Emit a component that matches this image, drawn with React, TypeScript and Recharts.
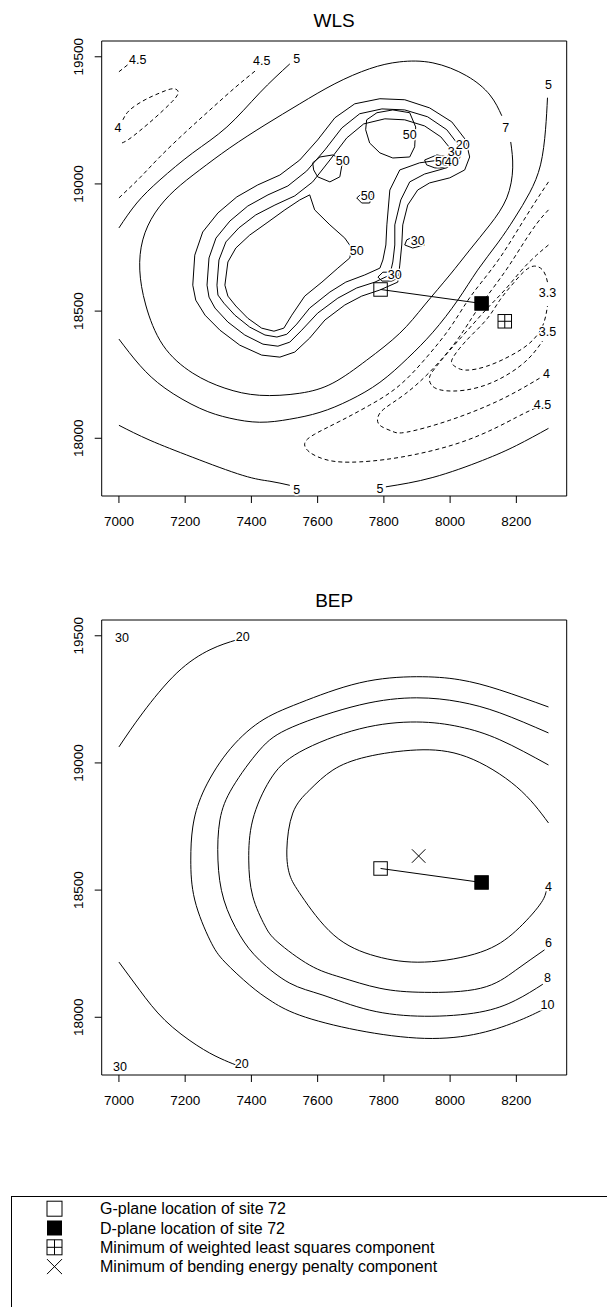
import React from 'react';
import { ComposedChart, Line, Scatter, XAxis, YAxis, ReferenceArea } from 'recharts';

const FONT = '"Liberation Sans", Arial, Helvetica, sans-serif';

// axes (same for both panels)
const xDomain = [6948, 8352];
const yDomain = [17773, 19562];
const xTicks = [7000, 7200, 7400, 7600, 7800, 8000, 8200];
const yTicks = [18000, 18500, 19000, 19500];

// site 72 and the two minima
const gPlane = [{ x: 7790, y: 18585 }];
const dPlane = [{ x: 8095, y: 18530 }];
const wlsMin = [{ x: 8165, y: 18460 }];
const bepMin = [{ x: 7905, y: 18634 }];

// ---- WLS contours, [x, y] ----
const wls45Corner = [[7000, 19441], [7027, 19469]];
const wls4Loop = [[7012, 19252], [7033, 19291], [7079, 19331], [7124, 19358], [7160, 19374], [7178, 19366], [7175, 19346], [7154, 19315], [7109, 19260], [7063, 19209], [7027, 19173], [7003, 19158]];
const wls45Ridge = [[7000, 18945], [7063, 19024], [7124, 19107], [7199, 19201], [7275, 19291], [7350, 19378], [7416, 19449]];
const wls5Top = [[7000, 18827], [7054, 18925], [7124, 19016], [7223, 19122], [7326, 19224], [7425, 19358], [7516, 19472]];
const wls5Sweep = [[7000, 18390], [7063, 18287], [7139, 18197], [7244, 18118], [7335, 18079], [7425, 18063], [7516, 18075], [7607, 18102], [7697, 18150], [7788, 18220], [7872, 18315], [7948, 18417], [8023, 18543], [8083, 18661], [8144, 18768], [8195, 18866], [8240, 18965], [8273, 19075], [8288, 19213], [8294, 19339]];
const wls5BottomLeft = [[7000, 18051], [7094, 17992], [7223, 17925], [7374, 17854], [7456, 17831], [7516, 17815]];
const wls5BottomRight = [[7806, 17809], [7948, 17846], [8098, 17913], [8201, 17972], [8297, 18039]];
const wls7 = [[8183, 19165], [8189, 19063], [8171, 18945], [8120, 18839], [8059, 18740], [7999, 18642], [7923, 18524], [7848, 18413], [7748, 18307], [7646, 18217], [7546, 18177], [7425, 18169], [7320, 18197], [7223, 18256], [7133, 18366], [7081, 18524], [7063, 18661], [7072, 18780], [7109, 18886], [7169, 18976], [7244, 19055], [7335, 19142], [7441, 19232], [7546, 19315], [7652, 19394], [7757, 19453], [7848, 19480], [7948, 19476], [8050, 19425], [8120, 19350], [8156, 19268]];
const wls45Valley = [[8297, 19008], [8255, 18925], [8204, 18819], [8150, 18709], [8095, 18614], [8050, 18535], [7999, 18433], [7932, 18323], [7848, 18209], [7757, 18130], [7667, 18067], [7591, 18016], [7561, 17980], [7576, 17945], [7622, 17917], [7697, 17906], [7848, 17925], [8050, 17992], [8201, 18083], [8264, 18122]];
const wls4Valley = [[8297, 18898], [8261, 18843], [8216, 18756], [8165, 18654], [8107, 18551], [8065, 18472], [8014, 18374], [7938, 18260], [7863, 18173], [7803, 18118], [7782, 18083], [7788, 18051], [7824, 18028], [7869, 18024], [7999, 18071], [8150, 18150], [8270, 18236]];
const wls35 = [[8297, 18760], [8261, 18720], [8216, 18661], [8165, 18583], [8113, 18512], [8053, 18425], [7999, 18346], [7957, 18280], [7938, 18240], [7944, 18209], [7975, 18189], [8044, 18189], [8135, 18224], [8225, 18299], [8279, 18382]];
const wls33 = [[8294, 18614], [8282, 18657], [8255, 18677], [8222, 18654], [8186, 18602], [8150, 18543], [8113, 18472], [8065, 18406], [8029, 18354], [8005, 18307], [8014, 18283], [8047, 18268], [8110, 18283], [8180, 18323], [8240, 18374], [8279, 18441], [8294, 18520]];
// inner ridge
const wls20 = [[7223, 18602], [7229, 18720], [7253, 18811], [7299, 18886], [7356, 18949], [7419, 18996], [7486, 19035], [7546, 19094], [7600, 19173], [7652, 19260], [7712, 19315], [7788, 19335], [7863, 19331], [7938, 19299], [8005, 19244], [8047, 19173], [8059, 19106], [8044, 19055], [7999, 19024], [7938, 19004], [7902, 18976], [7872, 18917], [7857, 18839], [7854, 18760], [7848, 18681], [7842, 18614], [7788, 18583], [7733, 18559], [7682, 18524], [7622, 18465], [7576, 18394], [7531, 18339], [7486, 18319], [7431, 18327], [7365, 18366], [7305, 18425], [7260, 18484], [7232, 18543]];
const wls30 = [[7266, 18602], [7272, 18709], [7293, 18787], [7335, 18854], [7389, 18913], [7450, 18957], [7510, 18992], [7567, 19051], [7622, 19134], [7673, 19220], [7727, 19276], [7794, 19295], [7863, 19291], [7932, 19264], [7990, 19213], [8023, 19157], [8032, 19110], [8017, 19079], [7978, 19059], [7923, 19039], [7878, 19008], [7851, 18937], [7833, 18839], [7833, 18760], [7827, 18693], [7818, 18642], [7773, 18614], [7718, 18591], [7661, 18551], [7600, 18492], [7552, 18425], [7516, 18378], [7480, 18362], [7435, 18370], [7380, 18406], [7329, 18457], [7290, 18512], [7272, 18555]];
const wls40 = [[7296, 18602], [7302, 18701], [7323, 18772], [7362, 18827], [7413, 18878], [7471, 18917], [7531, 18953], [7585, 19008], [7637, 19094], [7688, 19181], [7739, 19236], [7803, 19256], [7863, 19252], [7923, 19228], [7972, 19185], [7999, 19142], [7999, 19114], [7969, 19094], [7908, 19083], [7848, 19055], [7818, 18976], [7809, 18839], [7806, 18760], [7797, 18701], [7788, 18669], [7742, 18642], [7685, 18614], [7637, 18575], [7576, 18512], [7537, 18449], [7507, 18409], [7477, 18398], [7441, 18406], [7395, 18437], [7350, 18484], [7317, 18531], [7299, 18563]];
const wls50Main = [[7320, 18602], [7329, 18693], [7353, 18748], [7395, 18799], [7450, 18850], [7501, 18898], [7546, 18937], [7576, 18957], [7591, 18898], [7637, 18839], [7682, 18787], [7703, 18748], [7697, 18709], [7661, 18669], [7613, 18614], [7561, 18559], [7522, 18484], [7498, 18433], [7468, 18421], [7431, 18433], [7389, 18472], [7353, 18520], [7329, 18559]];
const wls50Top = [[7745, 19213], [7757, 19161], [7788, 19122], [7827, 19102], [7878, 19106], [7893, 19146], [7896, 19224], [7878, 19280], [7827, 19291], [7779, 19280], [7748, 19252]];
const wls50Left = [[7585, 19083], [7607, 19106], [7646, 19114], [7676, 19094], [7667, 19028], [7637, 19008], [7600, 19028], [7588, 19055]];
const wls50Dot = [[7718, 18945], [7742, 18972], [7766, 18957], [7757, 18925], [7733, 18925]];
const wls50Right = [[7923, 19094], [7960, 19114], [7993, 19106], [8005, 19083], [7990, 19063], [7954, 19063], [7929, 19075]];
const wls30a = [[7863, 18760], [7869, 18780], [7887, 18791], [7917, 18787], [7923, 18760], [7887, 18748]];
const wls30b = [[7782, 18634], [7797, 18653], [7827, 18653], [7848, 18634], [7824, 18618], [7794, 18618]];

const wlsLabels = [
  { x: 7057, y: 19488, t: '4.5' }, { x: 6997, y: 19221, t: '4' }, { x: 7431, y: 19484, t: '4.5' },
  { x: 7537, y: 19492, t: '5' }, { x: 8168, y: 19220, t: '7' }, { x: 8297, y: 19390, t: '5' },
  { x: 7718, y: 18740, t: '50' }, { x: 7878, y: 19193, t: '50' }, { x: 7676, y: 19094, t: '50' },
  { x: 7751, y: 18953, t: '50' }, { x: 7975, y: 19087, t: '50' }, { x: 8005, y: 19087, t: '40' },
  { x: 8014, y: 19126, t: '30' }, { x: 8038, y: 19154, t: '20' }, { x: 7902, y: 18776, t: '30' },
  { x: 7833, y: 18642, t: '30' }, { x: 8294, y: 18575, t: '3.3' }, { x: 8294, y: 18421, t: '3.5' },
  { x: 8291, y: 18256, t: '4' }, { x: 8279, y: 18134, t: '4.5' }, { x: 7537, y: 17799, t: '5' },
  { x: 7788, y: 17803, t: '5' },
];

// ---- BEP contours ----
const bep20Top = [[7000, 19063], [7072, 19197], [7175, 19354], [7275, 19445], [7356, 19484]];
const bep20Bottom = [[7000, 18217], [7063, 18106], [7139, 17988], [7235, 17890], [7305, 17839], [7356, 17811]];
const bep10 = [[8297, 19220], [8150, 19287], [8029, 19327], [7899, 19339], [7727, 19315], [7546, 19236], [7425, 19161], [7326, 19039], [7253, 18882], [7223, 18748], [7217, 18618], [7229, 18461], [7275, 18303], [7320, 18217], [7395, 18126], [7456, 18067], [7546, 18008], [7721, 17949], [7923, 17917], [8089, 17937], [8210, 17988], [8280, 18030]];
const bep8 = [[8297, 19118], [8150, 19197], [8029, 19240], [7899, 19256], [7727, 19228], [7525, 19142], [7425, 19051], [7344, 18906], [7305, 18776], [7299, 18618], [7317, 18461], [7365, 18323], [7425, 18224], [7516, 18134], [7616, 18087], [7757, 18028], [7923, 18004], [8089, 18020], [8198, 18067], [8280, 18130]];
const bep6 = [[8297, 18992], [8150, 19091], [8029, 19142], [7899, 19161], [7727, 19134], [7546, 19043], [7456, 18933], [7404, 18776], [7392, 18618], [7404, 18476], [7440, 18362], [7480, 18295], [7576, 18205], [7670, 18157], [7788, 18114], [7923, 18098], [8092, 18114], [8198, 18185], [8285, 18265]];
const bep4 = [[8297, 18764], [8201, 18906], [8050, 19024], [7899, 19051], [7748, 19024], [7646, 18972], [7576, 18894], [7525, 18803], [7507, 18658], [7516, 18559], [7552, 18476], [7649, 18323], [7776, 18240], [7923, 18217], [8092, 18256], [8198, 18339], [8270, 18441], [8290, 18495]];

const bepLabels = [
  { x: 7009, y: 19492, t: '30' }, { x: 7374, y: 19496, t: '20' }, { x: 7003, y: 17807, t: '30' },
  { x: 7371, y: 17819, t: '20' }, { x: 8297, y: 18516, t: '4' }, { x: 8297, y: 18295, t: '6' },
  { x: 8294, y: 18157, t: '8' }, { x: 8294, y: 18051, t: '10' },
];

const legendItems = [
  { sym: 'open', text: 'G-plane location of site 72' },
  { sym: 'filled', text: 'D-plane location of site 72' },
  { sym: 'plus', text: 'Minimum of weighted least squares component' },
  { sym: 'cross', text: 'Minimum of bending energy penalty component' },
];

type Contour = { pts: number[][]; dash?: boolean; smooth?: boolean };
const closed = (a: number[][]) => [...a, a[0]];

const wlsLines: Contour[] = [
  { pts: wls45Corner, dash: true }, { pts: wls4Loop, dash: true, smooth: true },
  { pts: wls45Ridge, dash: true, smooth: true }, { pts: wls5Top, smooth: true },
  { pts: wls5Sweep, smooth: true }, { pts: wls5BottomLeft, smooth: true }, { pts: wls5BottomRight, smooth: true },
  { pts: wls7, smooth: true }, { pts: wls45Valley, dash: true, smooth: true },
  { pts: wls4Valley, dash: true, smooth: true }, { pts: wls35, dash: true, smooth: true },
  { pts: wls33, dash: true, smooth: true },
  { pts: closed(wls20) }, { pts: closed(wls30) }, { pts: closed(wls40) }, { pts: closed(wls50Main) },
  { pts: closed(wls50Top) }, { pts: closed(wls50Left) }, { pts: closed(wls50Dot) }, { pts: closed(wls50Right) },
  { pts: closed(wls30a) }, { pts: closed(wls30b) },
];

const bepLines: Contour[] = [
  { pts: bep20Top, smooth: true }, { pts: bep20Bottom, smooth: true }, { pts: bep10, smooth: true },
  { pts: bep8, smooth: true }, { pts: bep6, smooth: true }, { pts: bep4, smooth: true },
];

const toPts = (a: number[][]) => a.map(([x, y]) => ({ x, y }));
const link = [...gPlane, ...dPlane];

const XTick = (p: any) => (
  <text x={p.x} y={p.y + 21} textAnchor="middle" fontSize={13.5} fontFamily={FONT} fill="#000">{p.payload.value}</text>
);
const YTick = (p: any) => {
  const tx = p.x - 10;
  return (
    <text x={tx} y={p.y} transform={`rotate(-90 ${tx} ${p.y})`} textAnchor="middle" fontSize={13.5} fontFamily={FONT} fill="#000">{p.payload.value}</text>
  );
};

const LabelShape = (p: any) => (
  <text x={p.cx} y={p.cy} dy="0.36em" textAnchor="middle" fontSize={12.5} fontFamily={FONT} fill="#000" stroke="#fff" strokeWidth={3} paintOrder="stroke">{p.payload.t}</text>
);

const S = 13.5;
const OpenSquare = (p: any) => <rect x={p.cx - S / 2} y={p.cy - S / 2} width={S} height={S} fill="none" stroke="#000" />;
const FilledSquare = (p: any) => <rect x={p.cx - S / 2} y={p.cy - S / 2} width={S} height={S} fill="#000" stroke="#000" />;
const PlusSquare = (p: any) => (
  <g stroke="#000" fill="none">
    <rect x={p.cx - S / 2} y={p.cy - S / 2} width={S} height={S} />
    <line x1={p.cx} y1={p.cy - S / 2} x2={p.cx} y2={p.cy + S / 2} />
    <line x1={p.cx - S / 2} y1={p.cy} x2={p.cx + S / 2} y2={p.cy} />
  </g>
);
const Cross = (p: any) => (
  <g stroke="#000">
    <line x1={p.cx - S / 2} y1={p.cy - S / 2} x2={p.cx + S / 2} y2={p.cy + S / 2} />
    <line x1={p.cx - S / 2} y1={p.cy + S / 2} x2={p.cx + S / 2} y2={p.cy - S / 2} />
  </g>
);

function Panel({ lines, labels, minimum, minShape }: { lines: Contour[]; labels: any[]; minimum: any[]; minShape: any }) {
  return (
    <ComposedChart width={607} height={560} margin={{ top: 41, right: 40.3, bottom: 34, left: 41.7 }}>
      <XAxis type="number" dataKey="x" domain={xDomain} ticks={xTicks} interval={0} allowDataOverflow
        axisLine={false} tickLine={{ stroke: '#000' }} tickSize={7} tick={XTick} height={30} />
      <YAxis type="number" dataKey="y" domain={yDomain} ticks={yTicks} interval={0} allowDataOverflow
        axisLine={false} tickLine={{ stroke: '#000' }} tickSize={7} tick={YTick} width={60} />
      <ReferenceArea x1={xDomain[0]} x2={xDomain[1]} y1={yDomain[0]} y2={yDomain[1]} fill="none" stroke="#000" ifOverflow="visible" />
      {lines.map((l, i) => (
        <Line key={i} data={toPts(l.pts)} dataKey="y" type={l.smooth ? 'natural' : 'linear'} stroke="#000" strokeWidth={1}
          strokeDasharray={l.dash ? '4 3' : undefined} dot={false} activeDot={false} isAnimationActive={false} />
      ))}
      <Line data={link} dataKey="y" type="linear" stroke="#000" strokeWidth={1} dot={false} activeDot={false} isAnimationActive={false} />
      <Scatter data={labels} shape={LabelShape} isAnimationActive={false} />
      <Scatter data={gPlane} shape={OpenSquare} isAnimationActive={false} />
      <Scatter data={dPlane} shape={FilledSquare} isAnimationActive={false} />
      <Scatter data={minimum} shape={minShape} isAnimationActive={false} />
    </ComposedChart>
  );
}

const L = 15;
function LegendSymbol({ sym, x, y }: { sym: string; x: number; y: number }) {
  if (sym === 'open') return <rect x={x - L / 2} y={y - L / 2} width={L} height={L} fill="none" stroke="#000" />;
  if (sym === 'filled') return <rect x={x - L / 2} y={y - L / 2} width={L} height={L} fill="#000" />;
  if (sym === 'plus')
    return (
      <g stroke="#000" fill="none">
        <rect x={x - L / 2} y={y - L / 2} width={L} height={L} />
        <line x1={x} y1={y - L / 2} x2={x} y2={y + L / 2} />
        <line x1={x - L / 2} y1={y} x2={x + L / 2} y2={y} />
      </g>
    );
  return (
    <g stroke="#000">
      <line x1={x - L / 2} y1={y - L / 2} x2={x + L / 2} y2={y + L / 2} />
      <line x1={x - L / 2} y1={y + L / 2} x2={x + L / 2} y2={y - L / 2} />
    </g>
  );
}

export default function App() {
  return (
    <div style={{ position: 'absolute', left: 0, top: 0, width: 607, height: 1307, background: '#fff', overflow: 'hidden' }}>
      <div style={{ position: 'absolute', left: 0, top: 0 }}>
        <Panel lines={wlsLines} labels={wlsLabels} minimum={wlsMin} minShape={PlusSquare} />
      </div>
      <div style={{ position: 'absolute', left: 0, top: 579 }}>
        <Panel lines={bepLines} labels={bepLabels} minimum={bepMin} minShape={Cross} />
      </div>
      <svg width={607} height={1307} style={{ position: 'absolute', left: 0, top: 0, pointerEvents: 'none' }}>
        <text x={334.2} y={27.3} textAnchor="middle" fontSize={19} fontFamily={FONT}>WLS</text>
        <text x={334.2} y={606.7} textAnchor="middle" fontSize={19} fontFamily={FONT}>BEP</text>
        <rect x={11.5} y={1196.5} width={700} height={200} fill="none" stroke="#000" />
        {legendItems.map((it, i) => {
          const y = 1208.7 + i * 19.3;
          return (
            <g key={i}>
              <LegendSymbol sym={it.sym} x={54.5} y={y} />
              <text x={100} y={y + 5.6} fontSize={16} fontFamily={FONT}>{it.text}</text>
            </g>
          );
        })}
      </svg>
    </div>
  );
}
